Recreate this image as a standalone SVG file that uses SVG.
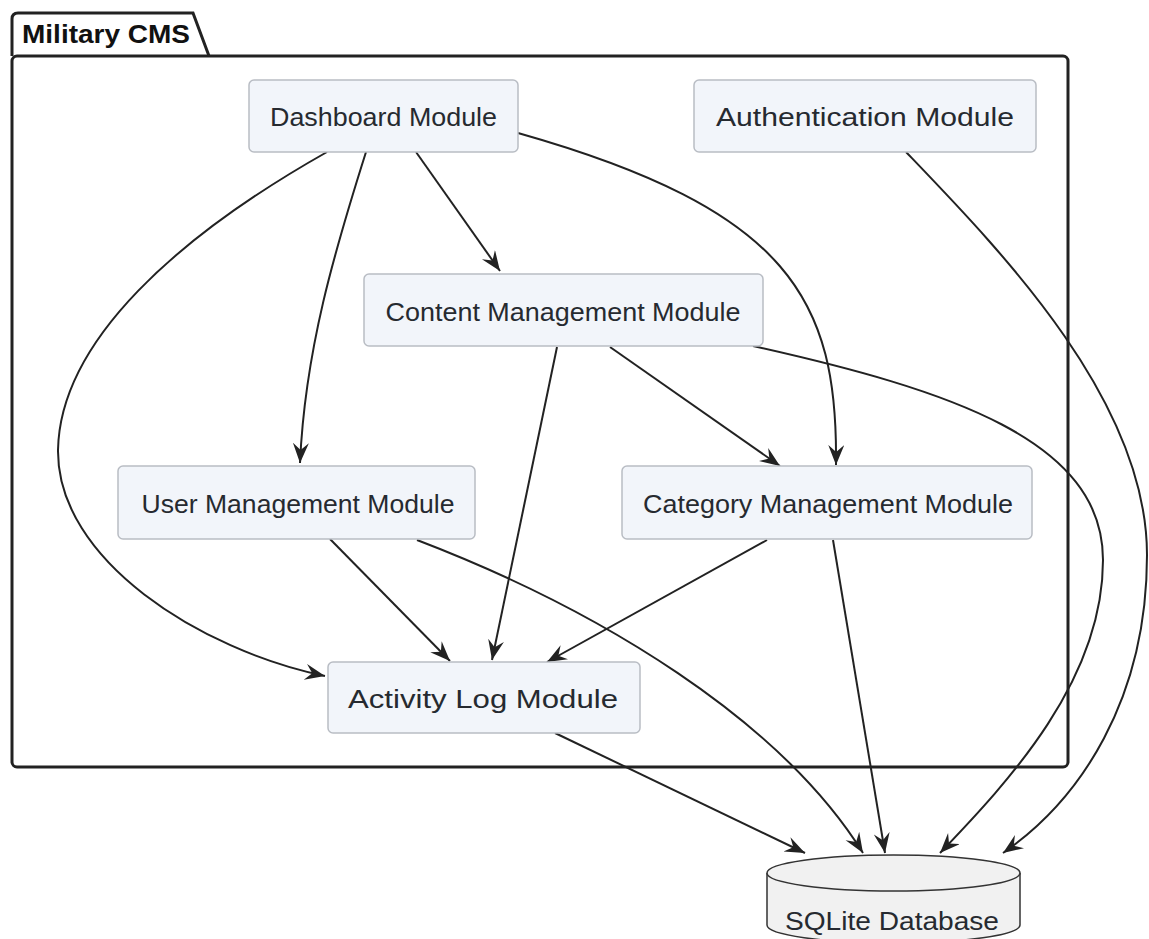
<svg xmlns="http://www.w3.org/2000/svg" width="1149" height="939" viewBox="0 0 1149 939">
<style>
.node rect{fill:#F2F5FA;stroke:#B9BDC4;stroke-width:1.5}
.lbl{font-family:"Liberation Sans",Arial,sans-serif;font-size:26px;fill:#262A30;text-anchor:middle}
.edge{fill:none;stroke:#222;stroke-width:2;marker-end:url(#arr)}
.pkg{fill:none;stroke:#222;stroke-width:3}
</style>
<defs>
<marker id="arr" markerUnits="userSpaceOnUse" markerWidth="22" markerHeight="18" refX="20" refY="8" orient="auto" viewBox="0 0 22 18">
<path d="M0,0 L20,8 L0,16 L7,8 Z" fill="#222"/>
</marker>
</defs>
<rect width="1149" height="939" fill="#fff"/>
<g id="package">
<path class="pkg" d="M12,56 L12,19 Q12,13 18,13 L193,13 L209,56"/>
<rect class="pkg" x="12" y="56" width="1056" height="711" rx="5"/>
<text x="22" y="43" font-family="'Liberation Sans',Arial,sans-serif" font-size="26" font-weight="bold" fill="#111" textLength="168" lengthAdjust="spacingAndGlyphs">Military CMS</text>
</g>
<g id="edges">
<path class="edge" d="M327,152 C180,235 60,340 58,450 C57,560 200,650 325,676"/>
<path class="edge" d="M366,152 C335,250 305,350 300,463"/>
<path class="edge" d="M416,152 L500,271"/>
<path class="edge" d="M518,133 C790,210 838,300 836,465"/>
<path class="edge" d="M906,152 C1000,250 1147,400 1147,555 C1147,700 1080,800 1003,853"/>
<path class="edge" d="M557,347 L492,660"/>
<path class="edge" d="M610,347 L780,466"/>
<path class="edge" d="M753,346 C950,390 1103,440 1103,560 C1103,680 1010,780 940,853"/>
<path class="edge" d="M330,539 L450,661"/>
<path class="edge" d="M417,540 C600,610 780,720 863,853"/>
<path class="edge" d="M767,540 L547,662"/>
<path class="edge" d="M833,540 L885,853"/>
<path class="edge" d="M555,733 L805,853"/>
</g>
<g id="dashboard" class="node">
<rect x="249" y="80" width="269" height="72" rx="5"/>
<text class="lbl" x="383.5" y="126" textLength="227" lengthAdjust="spacingAndGlyphs">Dashboard Module</text>
</g>
<g id="authentication" class="node">
<rect x="694" y="80" width="342" height="72" rx="5"/>
<text class="lbl" x="865" y="126" textLength="298" lengthAdjust="spacingAndGlyphs">Authentication Module</text>
</g>
<g id="content" class="node">
<rect x="364" y="274" width="399" height="72" rx="5"/>
<text class="lbl" x="563" y="321" textLength="355" lengthAdjust="spacingAndGlyphs">Content Management Module</text>
</g>
<g id="user" class="node">
<rect x="118" y="466" width="357" height="73" rx="5"/>
<text class="lbl" x="298" y="513" textLength="313" lengthAdjust="spacingAndGlyphs">User Management Module</text>
</g>
<g id="category" class="node">
<rect x="622" y="466" width="410" height="73" rx="5"/>
<text class="lbl" x="828" y="513" textLength="370" lengthAdjust="spacingAndGlyphs">Category Management Module</text>
</g>
<g id="activity" class="node">
<rect x="328" y="662" width="312" height="71" rx="5"/>
<text class="lbl" x="483" y="708" textLength="270" lengthAdjust="spacingAndGlyphs">Activity Log Module</text>
</g>
<g id="sqlite">
<path d="M767,873 L767,925 A126.5,18 0 0 0 1020,925 L1020,873" fill="#F1F1F1" stroke="#333" stroke-width="1.5"/>
<ellipse cx="893.5" cy="873" rx="126.5" ry="18" fill="#F1F1F1" stroke="#333" stroke-width="1.5"/>
<text class="lbl" x="892" y="930" textLength="214" lengthAdjust="spacingAndGlyphs">SQLite Database</text>
</g>
</svg>
